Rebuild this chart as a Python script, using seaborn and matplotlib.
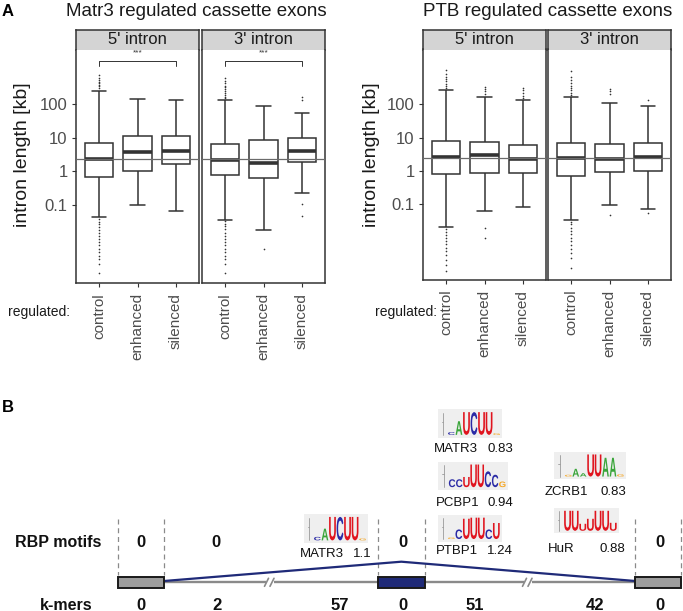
import numpy as np
import pandas as pd
import matplotlib
matplotlib.use("Agg")
import matplotlib.pyplot as plt
import seaborn as sns
from matplotlib.patches import Rectangle, PathPatch
from matplotlib.textpath import TextPath
from matplotlib.font_manager import FontProperties
from matplotlib.transforms import Affine2D
from matplotlib.ticker import NullLocator, FixedLocator

# ---------------- data (panel A) ----------------
CATEGORIES = ["control", "enhanced", "silenced"]
INTRONS = ["5' intron", "3' intron"]
STUDIES = ["Matr3", "PTB"]
Y_TICKS = [0.1, 1, 10, 100]
Y_TICK_LABELS = ["0.1", "1", "10", "100"]
REFERENCE_KB = 2.4

# per category: lower whisker, Q1, median, Q3, upper whisker (kb)
matr3_5p_box = [[0.044, 0.70, 2.3, 7.2, 250], [0.10, 1.03, 3.7, 11.4, 144], [0.067, 1.63, 4.1, 11.4, 134]]
matr3_3p_box = [[0.036, 0.78, 2.25, 6.55, 130], [0.018, 0.62, 1.8, 8.6, 89], [0.22, 1.95, 4.1, 9.7, 56]]
ptb_5p_box = [[0.021, 0.81, 2.6, 8.0, 265], [0.064, 0.88, 3.1, 7.5, 167], [0.085, 0.85, 2.2, 6.0, 133]]
ptb_3p_box = [[0.034, 0.70, 2.5, 7.0, 167], [0.095, 0.95, 2.3, 6.3, 106], [0.071, 1.01, 2.55, 7.0, 88]]

# outliers (kb)
matr3_5p_out = [[300, 340, 380, 420, 470, 520, 600, 750,
                 0.038, 0.032, 0.027, 0.022, 0.018, 0.015, 0.012, 0.01, 0.008,
                 0.0065, 0.005, 0.004, 0.003, 0.0024, 0.0018, 0.00093],
                [], []]
matr3_3p_out = [[150, 170, 190, 220, 250, 280, 320, 360, 420, 500, 620,
                 0.033, 0.028, 0.023, 0.019, 0.015, 0.012, 0.01, 0.008, 0.0065,
                 0.005, 0.004, 0.003, 0.0024, 0.0018, 0.00093],
                [0.0048],
                [134, 162, 0.11, 0.047]]
ptb_5p_out = [[300, 350, 400, 480, 560, 650, 800, 1050,
               0.018, 0.015, 0.012, 0.01, 0.008, 0.0065, 0.005, 0.004, 0.003,
               0.0022, 0.0015, 0.001],
              [200, 240, 280, 330, 0.019, 0.0095],
              [150, 180, 220, 260, 310]]
ptb_3p_out = [[190, 220, 260, 300, 360, 430, 520, 650, 1000,
               0.03, 0.025, 0.02, 0.016, 0.013, 0.01, 0.008, 0.006, 0.0045,
               0.0035, 0.0025, 0.0012],
              [200, 240, 290, 0.048],
              [133, 0.054]]

# ---------------- data (panel B) ----------------
KMER_COUNTS = [0, 2, 57, 0, 51, 42, 0]
RBP_MOTIF_COUNTS = [0, 0, None, 0, None, None, 0]
MOTIF_NAMES = ["MATR3", "MATR3", "PCBP1", "PTBP1", "ZCRB1", "HuR"]
MOTIF_SCORES = ["1.1", "0.83", "0.94", "1.24", "0.83", "0.88"]
MOTIF_LETTERS = ["CAUCUUG", "CAUCUUG", "CCUUUCCG", "GCUUUCU", "GAAUUAAG", "UUUUUUU"]
MOTIF_HEIGHTS = [
    [0.15, 0.5, 1.0, 1.0, 1.0, 1.0, 0.08],
    [0.12, 0.6, 1.0, 1.0, 1.0, 1.0, 0.07],
    [0.35, 0.35, 0.45, 1.0, 1.0, 0.7, 0.55, 0.25],
    [0.07, 0.45, 0.95, 1.0, 1.0, 0.45, 0.75],
    [0.08, 0.35, 0.15, 1.0, 1.0, 0.85, 0.85, 0.1],
    [1.0, 1.0, 0.35, 0.6, 1.0, 1.0, 0.4],
]

# ---------------- style ----------------
sns.set_theme(style="white")
plt.rcParams["font.family"] = ["Liberation Sans", "DejaVu Sans"]

W, H = 683, 611
fig = plt.figure(figsize=(W / 100, H / 100), dpi=100)
FRAME = "#333333"
TICKTXT = "#4d4d4d"


def px_rect(x0, y0, x1, y1):
    return [x0 / W, 1 - y1 / H, (x1 - x0) / W, (y1 - y0) / H]


def ftext(x, y, s, **kw):
    return fig.text(x / W, 1 - y / H, s, **kw)


rows = []
box_sets = {("Matr3", INTRONS[0]): (matr3_5p_box, matr3_5p_out),
            ("Matr3", INTRONS[1]): (matr3_3p_box, matr3_3p_out),
            ("PTB", INTRONS[0]): (ptb_5p_box, ptb_5p_out),
            ("PTB", INTRONS[1]): (ptb_3p_box, ptb_3p_out)}
for (study, intron), (stats, outs) in box_sets.items():
    for cat, st, ou in zip(CATEGORIES, stats, outs):
        for v in st:
            rows.append((study, intron, cat, "box", v))
        for v in ou:
            rows.append((study, intron, cat, "out", v))
df = pd.DataFrame(rows, columns=["study", "intron", "regulated", "part", "kb"])


def draw_facet(x0, x1, strip_top, panel_top, panel_bottom, ylo, yhi, study, intron, first, bracket):
    sax = fig.add_axes(px_rect(x0, strip_top, x1, panel_top))
    sax.set_facecolor("#d4d4d4")
    sax.set_xticks([])
    sax.set_yticks([])
    for k, s in sax.spines.items():
        s.set_color(FRAME)
        s.set_linewidth(1.1)
        s.set_visible(k != "bottom")
    sax.text(0.5, 0.5, intron, ha="center", va="center", fontsize=12,
             color="#1a1a1a", transform=sax.transAxes)

    ax = fig.add_axes(px_rect(x0, panel_top, x1, panel_bottom))
    ax.set_yscale("log")
    sub = df[(df.study == study) & (df.intron == intron)]
    sns.boxplot(data=sub[sub.part == "box"], x="regulated", y="kb", order=CATEGORIES,
                whis=(0, 100), width=0.75, color="white", linecolor=FRAME,
                linewidth=1.1, showfliers=False, medianprops=dict(linewidth=2.6), ax=ax)
    sns.stripplot(data=sub[sub.part == "out"], x="regulated", y="kb", order=CATEGORIES,
                  jitter=False, size=1.2, color=FRAME, linewidth=0, ax=ax)
    ax.axhline(REFERENCE_KB, color="#6b6b6b", lw=0.9, zorder=6)
    ax.set_xlim(-0.6, 2.6)
    ax.set_ylim(10 ** ylo, 10 ** yhi)
    ax.yaxis.set_major_locator(FixedLocator(Y_TICKS))
    ax.yaxis.set_minor_locator(NullLocator())
    ax.set_xticks([0, 1, 2])
    ax.set_xticklabels(CATEGORIES, rotation=90, fontsize=11, color=TICKTXT)
    ax.set_xlabel("")
    ax.set_ylabel("")
    ax.tick_params(axis="x", bottom=True, length=3, width=0.8, color=FRAME, pad=4)
    if first:
        ax.set_yticklabels(Y_TICK_LABELS, fontsize=12, color=TICKTXT)
        ax.tick_params(axis="y", left=True, length=3, width=0.8, color=FRAME, pad=3)
    else:
        ax.tick_params(axis="y", left=False, labelleft=False)
    for k, s in ax.spines.items():
        s.set_color(FRAME)
        s.set_linewidth(1.1)
        s.set_visible(k != "top")
    if bracket:
        ax.plot([0, 0, 2, 2], [1380, 1950, 1950, 1380], color=FRAME, lw=0.7)
        ax.text(1, 3300, "***", ha="center", va="center", fontsize=6, color=FRAME)
    return ax


# Matr3
draw_facet(76, 199, 30, 50, 283.3, -3.334, 3.617, "Matr3", INTRONS[0], True, True)
draw_facet(202, 325, 30, 50, 283.3, -3.334, 3.617, "Matr3", INTRONS[1], False, True)
# PTB
draw_facet(423, 546, 30, 49.5, 280, -3.266, 3.635, "PTB", INTRONS[0], True, False)
draw_facet(548, 671, 30, 49.5, 280, -3.266, 3.635, "PTB", INTRONS[1], False, False)

ftext(196, 12, "Matr3 regulated cassette exons", ha="center", va="center", fontsize=13.5, color="#1a1a1a")
ftext(548, 12, "PTB regulated cassette exons", ha="center", va="center", fontsize=13.5, color="#1a1a1a")
ftext(2, 12, "A", ha="left", va="center", fontsize=12, fontweight="bold", color="black")
ftext(23, 155, "intron length [kb]", rotation=90, ha="center", va="center", fontsize=14, color="#1a1a1a")
ftext(372, 155, "intron length [kb]", rotation=90, ha="center", va="center", fontsize=14, color="#1a1a1a")
ftext(70, 312, "regulated:", ha="right", va="center", fontsize=10, color="#1a1a1a")
ftext(437, 312, "regulated:", ha="right", va="center", fontsize=10, color="#1a1a1a")

# ---------------- panel B ----------------
bax = fig.add_axes([0, 0, 1, 1], zorder=-1)
bax.set_xlim(0, W)
bax.set_ylim(H, 0)
bax.axis("off")

ftext(2, 407.5, "B", ha="left", va="center", fontsize=12, fontweight="bold", color="black")

EXON_X = [(118.3, 164.0), (378.3, 424.7), (635.3, 680.7)]
EXON_FILL = ["#9d9d9d", "#1f2a78", "#9d9d9d"]
EXON_Y = (576.8, 588.0)
LINE_Y = 582.3
BREAK_X = [270.0, 528.0]

# dashed boundaries
for x0, x1 in EXON_X:
    for x in (x0, x1):
        bax.plot([x, x], [519, 575], color="#8a8a8a", lw=0.9, ls=(0, (4, 3)))

# intron backbone
bax.plot([EXON_X[0][1], EXON_X[1][0]], [LINE_Y, LINE_Y], color="#8a8a8a", lw=1.7, zorder=2)
bax.plot([EXON_X[1][1], EXON_X[2][0]], [LINE_Y, LINE_Y], color="#8a8a8a", lw=1.7, zorder=2)
for bx in BREAK_X:
    bax.add_patch(Rectangle((bx - 4, LINE_Y - 2.5), 8, 5, fc="white", ec="none", zorder=3))
    for dx in (-3.5, 2.0):
        bax.plot([bx + dx - 2, bx + dx + 2], [LINE_Y + 4, LINE_Y - 4], color="#8a8a8a", lw=1.2, zorder=4)

# splicing lines
apex_x = (EXON_X[1][0] + EXON_X[1][1]) / 2 - 0.2
bax.plot([EXON_X[0][1], apex_x, EXON_X[2][0]], [581.0, 561.7, 581.0], color="#1f2a78", lw=1.6, zorder=5)

for (x0, x1), fc in zip(EXON_X, EXON_FILL):
    bax.add_patch(Rectangle((x0, EXON_Y[0]), x1 - x0, EXON_Y[1] - EXON_Y[0],
                            fc=fc, ec="#1a1a1a", lw=1.4, zorder=6))

# row labels and counts
bax.text(15, 542.7, "RBP motifs", ha="left", va="center", fontsize=11.5, fontweight="bold", color="#111111")
bax.text(40, 605, "k-mers", ha="left", va="center", fontsize=11.5, fontweight="bold", color="#111111")
KMER_X = [140.7, 216.7, 339.3, 403.0, 474.7, 594.7, 660.3]
RBP_X = [140.7, 216.0, 339.3, 403.0, 474.7, 594.7, 659.7]
for x, c in zip(KMER_X, KMER_COUNTS):
    bax.text(x, 605, str(c), ha="center", va="center", fontsize=12, fontweight="bold", color="#111111")
for x, c in zip(RBP_X, RBP_MOTIF_COUNTS):
    if c is not None:
        bax.text(x, 542.7, str(c), ha="center", va="center", fontsize=12, fontweight="bold", color="#111111")

# motif logos
LOGO_BOX = [(304, 514, 368.3, 543.3), (438, 409.3, 502.3, 437.7), (438, 461.7, 508, 490),
            (438, 515, 502, 541.7), (553.7, 451.7, 626.3, 479.3), (554, 508.3, 619, 533.3)]
LABEL_POS = [(300, 371.7, 554.3), (433.7, 513, 449), (436.3, 513, 503.3),
             (436.3, 513, 551), (544.7, 626, 491.7), (548, 625.7, 549.3)]
BASE_COLORS = {"A": "#3aa53a", "C": "#2b2ba6", "G": "#f5a623", "U": "#e0141e"}
logo_font = FontProperties(family="Liberation Sans", weight="bold")


def draw_letter(ch, x, ybot, w, h, color):
    tp = TextPath((0, 0), ch, size=1, prop=logo_font)
    bb = tp.get_extents()
    tr = Affine2D().translate(-bb.x0, -bb.y0).scale(w / bb.width, -h / bb.height).translate(x, ybot)
    bax.add_patch(PathPatch(tr.transform_path(tp), fc=color, ec="none", lw=0, zorder=8))


for (x0, y0, x1, y1), letters, heights in zip(LOGO_BOX, MOTIF_LETTERS, MOTIF_HEIGHTS):
    w, h = x1 - x0, y1 - y0
    bax.add_patch(Rectangle((x0, y0), w, h, fc="#efefef", ec="none", zorder=7))
    ax_x = x0 + 0.08 * w
    bax.plot([ax_x, ax_x], [y0 + 0.12 * h, y1 - 0.1 * h], color="#9a9a9a", lw=0.6, zorder=8)
    bax.plot([ax_x - 1.5, ax_x], [y0 + 0.45 * h, y0 + 0.45 * h], color="#9a9a9a", lw=0.6, zorder=8)
    lx0, lx1 = x0 + 0.15 * w, x1 - 0.03 * w
    slot = (lx1 - lx0) / len(letters)
    base = y1 - 0.1 * h
    hmax = 0.8 * h
    for i, (ch, fr) in enumerate(zip(letters, heights)):
        draw_letter(ch, lx0 + i * slot + 0.05 * slot, base, slot * 0.9, hmax * fr, BASE_COLORS[ch])

for name, score, (lx, rx, ly) in zip(MOTIF_NAMES, MOTIF_SCORES, LABEL_POS):
    bax.text(lx, ly, name, ha="left", va="center", fontsize=9.5, color="#111111")
    bax.text(rx, ly, score, ha="right", va="center", fontsize=9.5, color="#111111")

fig.savefig("out.png", dpi=100)
